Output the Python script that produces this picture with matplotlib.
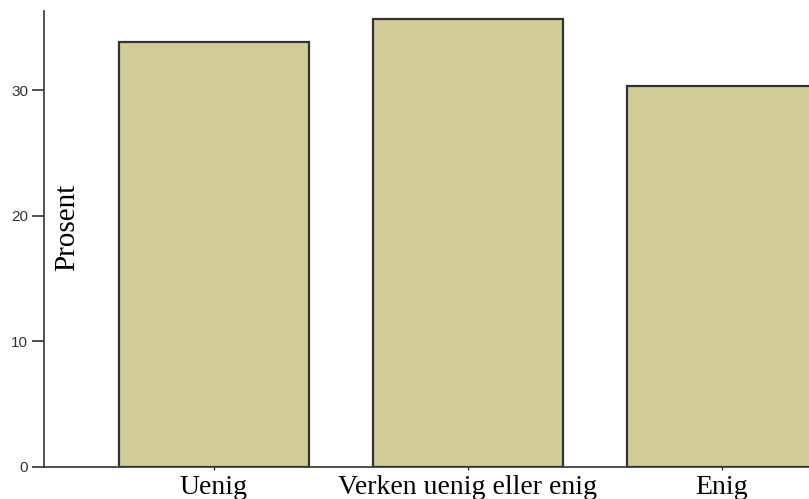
import matplotlib
matplotlib.use("Agg")
import matplotlib.pyplot as plt

categories = ["Uenig", "Verken uenig eller enig", "Enig"]
values = [33.8, 35.7, 30.3]
yticks = [0, 10, 20, 30]

fig = plt.figure(figsize=(8.09, 4.99), dpi=100)
ax = fig.add_axes([44/809, 32.5/499, 1 - 44/809, 455.5/499])
x = list(range(len(categories)))
ax.bar(x, values, width=0.75, color="#D1CD98", edgecolor="#333333", linewidth=1.6, zorder=2)
ax.set_xlim(-0.669, 2.343)
ax.set_ylim(0, 36.3)
ax.set_yticks(yticks)
ax.set_yticklabels([str(t) for t in yticks], fontfamily="Liberation Sans", fontsize=11, color="#333333")
ax.set_xticks(x)
ax.set_xticklabels(categories, fontfamily="Liberation Serif", fontsize=20, color="black")
ax.tick_params(axis="y", length=8.5, width=1.2, color="#333333", pad=3)
ax.tick_params(axis="x", length=2.5, width=1, color="#333333", pad=3.5)
for s in ["top", "right"]:
    ax.spines[s].set_visible(False)
ax.spines["left"].set_color("#333333")
ax.spines["bottom"].set_color("#333333")
ax.spines["left"].set_linewidth(1.2)
ax.spines["bottom"].set_linewidth(1.2)
fig.text(67/809, 1 - 227/499, "Prosent", rotation=90, ha="center", va="center",
         fontfamily="Liberation Serif", fontsize=21, color="black")
fig.savefig("out.png", dpi=100)
